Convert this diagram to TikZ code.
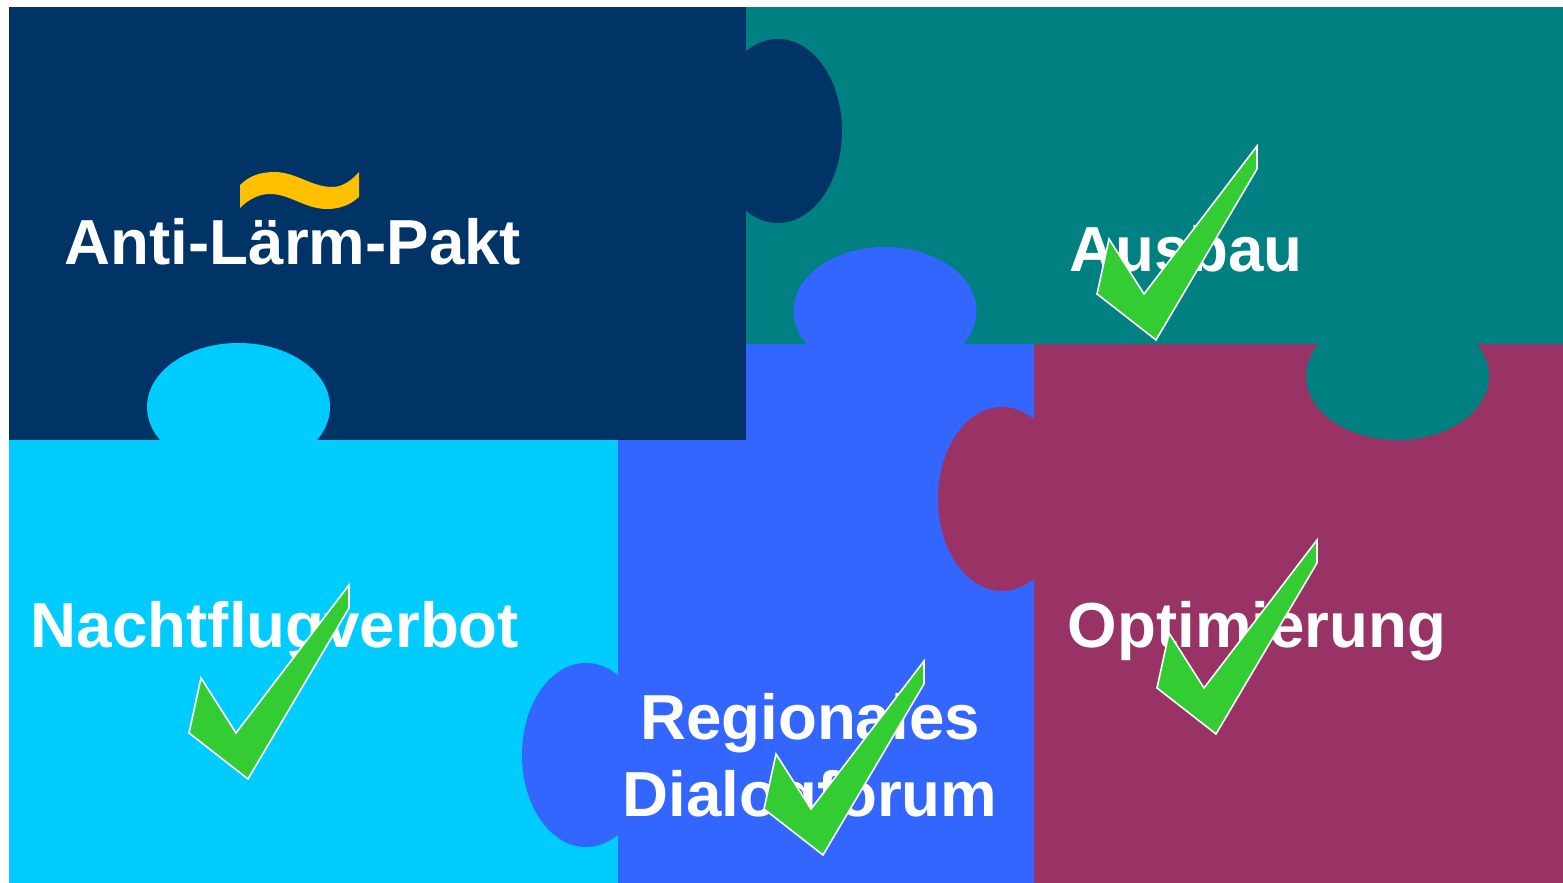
\documentclass[tikz,border=0pt]{standalone}
\usepackage{fontspec}
\setmainfont{Liberation Sans}
\definecolor{pieceNavy}{HTML}{003366}
\definecolor{pieceTeal}{HTML}{008080}
\definecolor{pieceBlue}{HTML}{3366FF}
\definecolor{pieceCyan}{HTML}{00CCFF}
\definecolor{pieceMaroon}{HTML}{993366}
\definecolor{tickGreen}{HTML}{33CC33}
\definecolor{waveGold}{HTML}{FFC000}
\tikzstyle{pieceLabel}=[text=white,anchor=base,inner sep=0pt,align=center,font=\fontsize{18.1}{21.9}\selectfont\bfseries]
\tikzstyle{tickMark}=[fill=tickGreen,draw=white,line width=0.45pt,line join=miter]
\tikzset{tick/.pic={
	\path[tickMark] (0,0) -- (0,23) -- (-101,194) -- (-160,148) -- (-148,93) -- (-113,148) -- cycle;
}}

\begin{document}
\begin{tikzpicture}[x=0.01cm,y=-0.01cm]
	\useasboundingbox (0,0) rectangle (1563,883);

	% puzzle pieces
	\fill[pieceTeal] (746,7) rectangle (1563,344);
	\fill[pieceMaroon] (1034,344) rectangle (1563,883);
	\fill[pieceCyan] (9,440) rectangle (618,883);
	\fill[pieceBlue] (746,344) rectangle (1034,883);
	\fill[pieceBlue] (618,440) rectangle (746,883);
	\fill[pieceNavy] (9,7) rectangle (746,440);

	% knobs
	\fill[pieceNavy] (778,131) ellipse (64 and 92);
	\fill[pieceBlue] (885,311) ellipse (91.5 and 64);
	\fill[pieceCyan] (238.5,407) ellipse (91.5 and 64);
	\fill[pieceTeal] (1397.5,376) ellipse (91.5 and 64);
	\fill[pieceMaroon] (1002,499) ellipse (64 and 92);
	\fill[pieceBlue] (586,755) ellipse (64 and 92);

	\node[pieceLabel] (pakt) at (293,265) {Anti-Lärm-Pakt};
	\node[pieceLabel] (ausbau) at (1186,272) {Ausbau};
	\node[pieceLabel] (nacht) at (275,648) {Nachtflugverbot};
	\node[pieceLabel] (opti) at (1257,648) {Optimierung};
	\node[pieceLabel] (forum) at (810,817) {Regionales\\Dialogforum};

	\fill[waveGold] (240,185) .. controls (250,175) and (262,172) .. (275,172) .. controls (295,172) and (312,187) .. (332,187) .. controls (343,187) and (352,180) .. (359,172) -- (359,197) .. controls (350,205) and (340,209) .. (327,209) .. controls (305,209) and (290,194) .. (270,194) .. controls (258,194) and (248,200) .. (240,208) -- cycle;

	\pic at (349,585) {tick};
	\pic at (1257,146) {tick};
	\pic at (1317,540) {tick};
	\pic at (924,661) {tick};
\end{tikzpicture}
\end{document}
